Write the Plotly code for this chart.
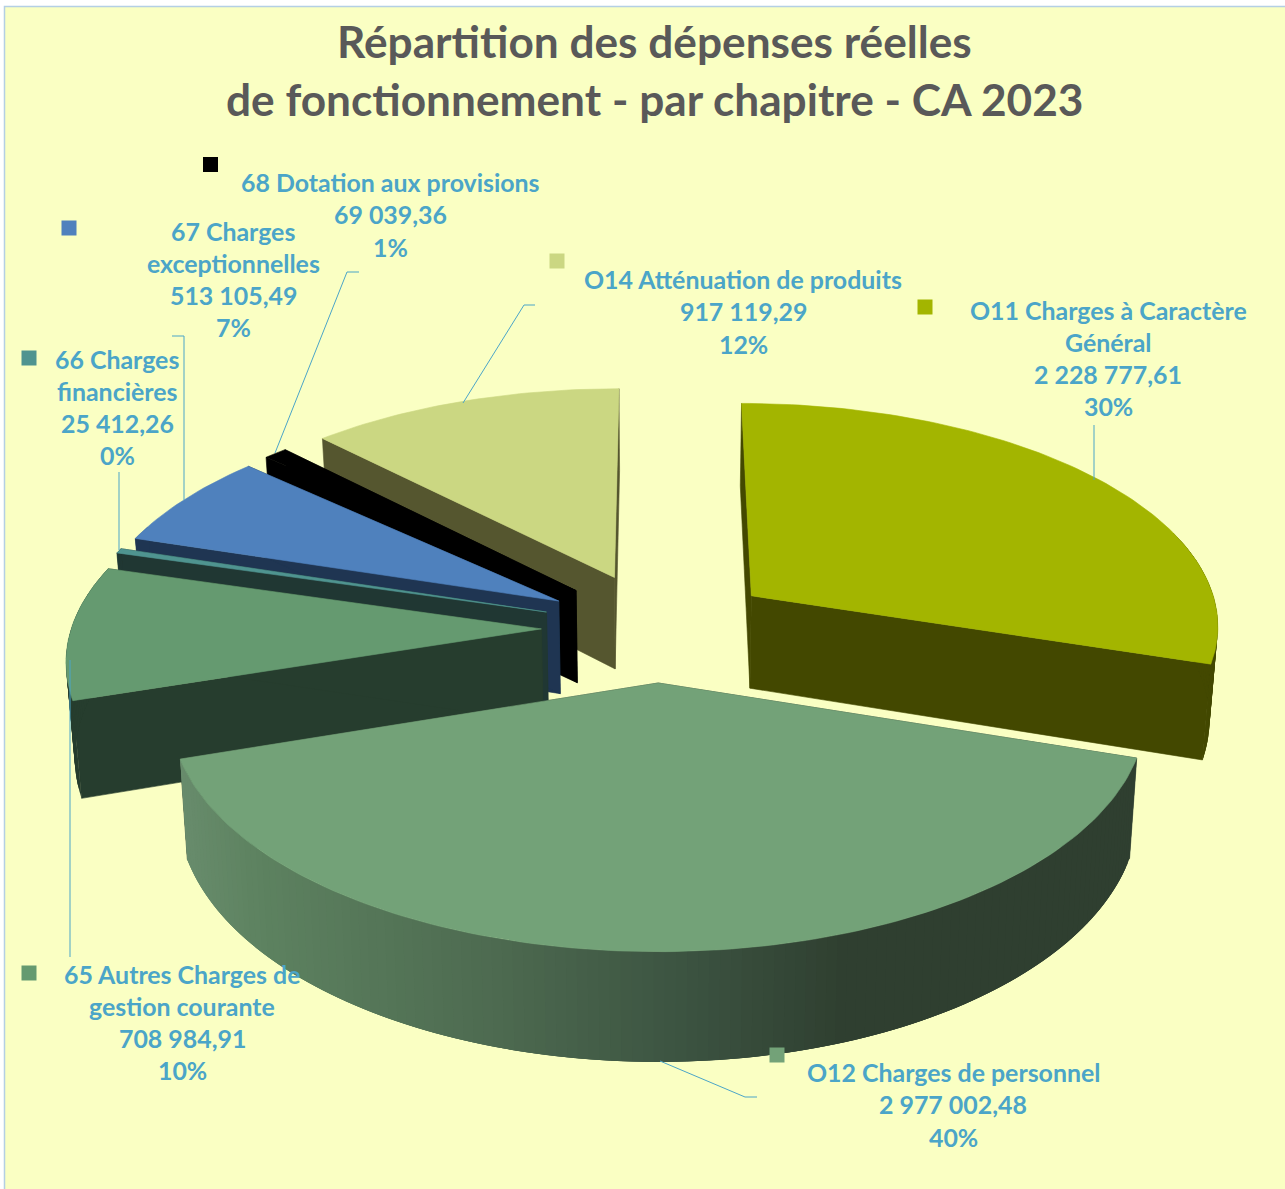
import math
import plotly.graph_objects as go

# ---------- data ----------
chapters = ["O11 Charges à Caractère Général", "O12 Charges de personnel",
            "65 Autres Charges de gestion courante", "66 Charges financières",
            "67 Charges exceptionnelles", "68 Dotation aux provisions",
            "O14 Atténuation de produits"]
amounts = [2228777.61, 2977002.48, 708984.91, 25412.26, 513105.49, 69039.36, 917119.29]
label_wrap = [["O11 Charges à Caractère", "Général"], ["O12 Charges de personnel"],
              ["65 Autres Charges de", "gestion courante"], ["66 Charges", "financières"],
              ["67 Charges", "exceptionnelles"], ["68 Dotation aux provisions"],
              ["O14 Atténuation de produits"]]
title_lines = ["Répartition des dépenses réelles", "de fonctionnement - par chapitre - CA 2023"]

# ---------- style ----------
top_col = ["#a3b500", "#73a278", "#659a70", "#4f9490", "#4f81bd", "#000000", "#cbd782"]
side_col = ["#434800", "#2f3f30", "#263d2e", "#203733", "#1f3552", "#000000", "#55562f"]
BG, EDGE, TXT, TITLE = "#faffc3", "#b4cfe4", "#4ba5c8", "#595959"
CX, CY, BX, AY, K, DEPTH, SHRINK = 658, 628, 470, 222.5, 0.119, 94, 0.985
explode = [0.25, 0.24, 0.248, 0.25, 0.247, 0.247, 0.252]
FONT = "Lato"
LABEL_SIZE, TITLE_SIZE = 24.9, 44.2
label_x = [1108, 953, 182, 117, 233, 390, 743]
label_y = [309.5, 1071.5, 973.5, 358.5, 230.5, 181.5, 278.5]
line_gap = [32, 32.5, 32, 32, 32, 32.5, 32.5]
marker_x = [925, 777, 29, 29, 69, 210.5, 557]
marker_y = [307, 1055, 973, 358, 228, 164.5, 261]
leaders = [[(1094, 425), (1094, 480)], [(660, 1061), (745, 1097), (757, 1097)],
           [(70, 660), (70, 957)], [(119, 472), (119, 550)],
           [(172, 336), (184, 336), (184, 500)], [(359, 272), (347, 272), (275, 453)],
           [(535, 305), (524, 305), (463, 403)]]
draw_order = [6, 5, 4, 3, 2, 0, 1]
gradient_stops = [(180, (104, 140, 108)), (260, (93, 130, 96)), (500, (77, 106, 80)),
                  (700, (59, 82, 64)), (850, (47, 63, 48)), (1300, (47, 63, 48))]


def top(u, v):
    s = 1 / (1 + K * v)
    return CX + BX * u * s, CY - AY * v * s


def bottom(u, v):
    s = 1 / (1 + K * v)
    x, y = top(u, v)
    return CX + (x - CX) * SHRINK, y + DEPTH * s


def poly(fig, pts, color, width=0.6):
    fig.add_trace(go.Scatter(x=[p[0] for p in pts] + [pts[0][0]], y=[p[1] for p in pts] + [pts[0][1]],
                             mode="lines", fill="toself", fillcolor=color,
                             line=dict(color=color, width=width), hoverinfo="skip", showlegend=False))


def grad(x):
    for (x0, c0), (x1, c1) in zip(gradient_stops, gradient_stops[1:]):
        if x0 <= x <= x1:
            t = (x - x0) / (x1 - x0)
            return "rgb(%d,%d,%d)" % tuple(round(a + (b - a) * t) for a, b in zip(c0, c1))
    return "rgb(%d,%d,%d)" % gradient_stops[0][1]


total = sum(amounts)
fig = go.Figure()

# sector angles come from the values
starts, acc = [], 0.0
for a in amounts:
    starts.append(acc / total * 2 * math.pi)
    acc += a
spans = [a / total * 2 * math.pi for a in amounts]

for i in draw_order:
    a0, da = starts[i], spans[i]
    mid = a0 + da / 2
    ou, ov = explode[i] * math.sin(mid), explode[i] * math.cos(mid)
    n = max(3, int(da / 0.02))
    angles = [a0 + da * j / n for j in range(n + 1)]
    rim = [(ou + math.sin(a), ov + math.cos(a)) for a in angles]
    apex = (ou, ov)
    for edge in (rim[0], rim[-1]):
        poly(fig, [top(*apex), top(*edge), bottom(*edge), bottom(*apex)], side_col[i])
    for j in range(n):
        if math.cos(angles[j]) > 0.3 and math.cos(angles[j + 1]) > 0.3:
            continue  # far side of the rim stays hidden behind the top face
        p, q = rim[j], rim[min(j + 3, n)]  # each band overlaps the next to avoid seams
        tp = top(*p)
        color = grad(tp[0]) if i == 1 else side_col[i]
        poly(fig, [tp, top(*q), bottom(*q), bottom(*p)], color, width=0)
    poly(fig, [top(*apex)] + [top(*p) for p in rim], top_col[i])

# legend squares
for i in range(len(amounts)):
    fig.add_trace(go.Scatter(x=[marker_x[i]], y=[marker_y[i]], mode="markers", hoverinfo="skip",
                             marker=dict(symbol="square", size=15, color=top_col[i], line_width=0),
                             name=chapters[i], showlegend=False))


# labels
def fmt(v):
    return f"{v:,.2f}".replace(",", " ").replace(".", ",")


for i, a in enumerate(amounts):
    lines = label_wrap[i] + [fmt(a), f"{round(a / total * 100)}%"]
    for j, t in enumerate(lines):
        fig.add_annotation(x=label_x[i], y=label_y[i] + j * line_gap[i], text=f"<b>{t}</b>", showarrow=False,
                           xanchor="center", yanchor="middle", font=dict(family=FONT, size=LABEL_SIZE, color=TXT))

for pts in leaders:
    path = "M " + " L ".join(f"{x},{y}" for x, y in pts)
    fig.add_shape(type="path", path=path, line=dict(color=TXT, width=1), layer="above")

for t, y in zip(title_lines, (40.5, 98.5)):
    fig.add_annotation(x=654, y=y, text=f"<b>{t}</b>", showarrow=False, xanchor="center", yanchor="middle",
                       font=dict(family=FONT, size=TITLE_SIZE, color=TITLE))

fig.add_shape(type="rect", x0=4.5, y0=6.5, x1=1290, y1=1195, line=dict(color=EDGE, width=1.5),
              fillcolor=BG, layer="below")

fig.update_layout(width=1285, height=1189, margin=dict(l=0, r=0, t=0, b=0), paper_bgcolor="white",
                  plot_bgcolor="white", showlegend=False,
                  xaxis=dict(range=[0, 1285], visible=False, fixedrange=True),
                  yaxis=dict(range=[1189, 0], visible=False, fixedrange=True))
fig.write_html("out.html", config={"displayModeBar": False},
               post_script="document.body.style.margin='0';document.body.style.overflow='hidden';")
